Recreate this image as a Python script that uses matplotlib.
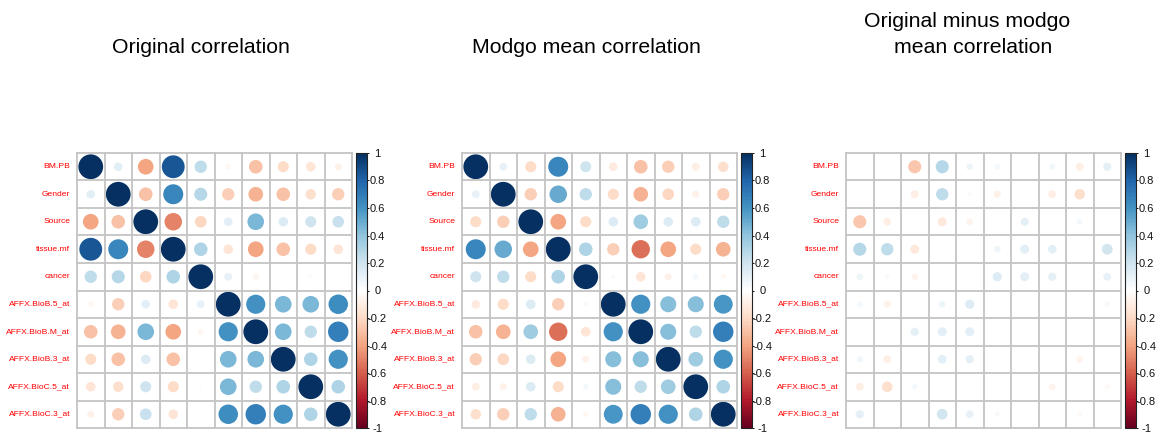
import numpy as np
import matplotlib
matplotlib.use("Agg")
import matplotlib.pyplot as plt
from matplotlib.colors import LinearSegmentedColormap, Normalize
from matplotlib.patches import Circle
from matplotlib.transforms import Bbox, TransformedBbox
import matplotlib.colorbar as mcolorbar

plt.rcParams['font.family'] = ['Liberation Sans', 'DejaVu Sans']

variables = ["BM.PB", "Gender", "Source", "tissue.mf", "cancer",
             "AFFX.BioB.5_at", "AFFX.BioB.M_at", "AFFX.BioB.3_at",
             "AFFX.BioC.5_at", "AFFX.BioC.3_at"]

titles = ["Original correlation", "Modgo mean correlation",
          "Original minus modgo\nmean correlation"]

original_corr = [
    [1.00, 0.12, -0.40, 0.85, 0.25, -0.05, -0.30, -0.20, -0.15, -0.08],
    [0.12, 1.00, -0.30, 0.65, 0.28, -0.25, -0.35, -0.30, -0.18, -0.25],
    [-0.40, -0.30, 1.00, -0.50, -0.22, 0.12, 0.45, 0.15, 0.20, 0.22],
    [0.85, 0.65, -0.50, 1.00, 0.30, -0.15, -0.40, -0.30, -0.20, -0.15],
    [0.25, 0.28, -0.22, 0.30, 1.00, 0.10, -0.06, -0.01, 0.02, 0.01],
    [-0.05, -0.25, 0.12, -0.15, 0.10, 1.00, 0.60, 0.45, 0.45, 0.62],
    [-0.30, -0.35, 0.45, -0.40, -0.06, 0.60, 1.00, 0.45, 0.25, 0.68],
    [-0.20, -0.30, 0.15, -0.30, -0.01, 0.45, 0.45, 1.00, 0.30, 0.60],
    [-0.15, -0.18, 0.20, -0.20, 0.02, 0.45, 0.25, 0.30, 1.00, 0.30],
    [-0.08, -0.25, 0.22, -0.15, 0.01, 0.62, 0.68, 0.60, 0.30, 1.00],
]

modgo_corr = [
    [1.00, 0.10, -0.20, 0.65, 0.20, -0.12, -0.30, -0.25, -0.10, -0.18],
    [0.10, 1.00, -0.25, 0.50, 0.25, -0.20, -0.35, -0.22, -0.08, -0.25],
    [-0.20, -0.25, 1.00, -0.40, -0.20, 0.15, 0.35, 0.15, 0.15, 0.25],
    [0.65, 0.50, -0.40, 1.00, 0.30, -0.25, -0.55, -0.40, -0.20, -0.35],
    [0.20, 0.25, -0.20, 0.30, 1.00, 0.03, -0.15, -0.08, 0.05, -0.05],
    [-0.12, -0.20, 0.15, -0.25, 0.03, 1.00, 0.60, 0.42, 0.42, 0.58],
    [-0.30, -0.35, 0.35, -0.55, -0.15, 0.60, 1.00, 0.42, 0.25, 0.68],
    [-0.25, -0.22, 0.15, -0.40, -0.08, 0.42, 0.42, 1.00, 0.35, 0.60],
    [-0.10, -0.08, 0.15, -0.20, 0.05, 0.42, 0.25, 0.35, 1.00, 0.30],
    [-0.18, -0.25, 0.25, -0.35, -0.05, 0.58, 0.68, 0.60, 0.30, 1.00],
]

diff_corr = [
    [0.00, 0.01, -0.28, 0.28, 0.07, 0.05, 0.01, 0.06, -0.10, 0.11],
    [0.01, 0.00, -0.10, 0.25, 0.03, -0.08, 0.01, -0.10, -0.18, 0.005],
    [-0.28, -0.10, 0.00, -0.13, -0.07, 0.01, 0.11, 0.01, 0.05, -0.02],
    [0.28, 0.25, -0.13, 0.00, 0.01, 0.07, 0.13, 0.12, 0.01, 0.19],
    [0.07, 0.03, -0.07, 0.01, 0.00, 0.14, 0.13, 0.11, -0.02, 0.10],
    [0.05, -0.08, 0.01, 0.07, 0.14, 0.00, 0.005, 0.005, 0.01, 0.04],
    [0.01, 0.01, 0.11, 0.13, 0.13, 0.005, 0.00, 0.005, 0.005, 0.005],
    [0.06, -0.10, 0.01, 0.12, 0.11, 0.005, 0.005, 0.00, -0.07, 0.005],
    [-0.10, -0.18, 0.05, 0.01, -0.02, 0.01, 0.005, -0.07, 0.00, -0.04],
    [0.11, 0.005, -0.02, 0.19, 0.10, 0.04, 0.005, 0.005, -0.04, 0.00],
]

colorbar_ticks = [-1, -0.8, -0.6, -0.4, -0.2, 0, 0.2, 0.4, 0.6, 0.8, 1]
colorbar_labels = ["-1", "-0.8", "-0.6", "-0.4", "-0.2", "0",
                   "0.2", "0.4", "0.6", "0.8", "1"]

rdbu = ["#67001F", "#B2182B", "#D6604D", "#F4A582", "#FDDBC7", "#FFFFFF",
        "#D1E5F0", "#92C5DE", "#4393C3", "#2166AC", "#053061"]
cmap = LinearSegmentedColormap.from_list("corrRdBu", rdbu, N=200)
norm = Normalize(-1, 1)

W, H = 1161, 436
fig = plt.figure(figsize=(W / 100, H / 100), dpi=100)

grid_left = [77, 462, 846]
cbar_left = [356, 741, 1125]
title_x = [[201], [586], [967, 973]]
title_base = [[53.3], [53.3], [26.7, 52.7]]
grid_top, grid_bottom = 153, 428
size = grid_bottom - grid_top
panel_w = W / 3
n = len(variables)

for p, mat in enumerate([original_corr, modgo_corr, diff_corr]):
    mat = np.asarray(mat)
    clip = TransformedBbox(Bbox.from_extents(p * panel_w / W, 0,
                                             (p + 1) * panel_w / W, 1),
                           fig.transFigure)
    ax = fig.add_axes([grid_left[p] / W, 1 - grid_bottom / H,
                       size / W, size / H])
    ax.set_xlim(0, n)
    ax.set_ylim(n, 0)
    ax.axis("off")
    for i in range(n):
        for j in range(n):
            v = mat[i, j]
            r = 0.9 * np.sqrt(abs(v)) / 2
            ax.add_patch(Circle((j + 0.5, i + 0.5), r,
                                facecolor=cmap(norm(v)), edgecolor="none"))
    for k in range(n + 1):
        ax.plot([0, n], [k, k], color="#C4C4C4", lw=1.3, clip_on=False,
                solid_capstyle="projecting")
        ax.plot([k, k], [0, n], color="#C4C4C4", lw=1.3, clip_on=False,
                solid_capstyle="projecting")
    for i, lab in enumerate(variables):
        t = ax.text(-0.25, i + 0.5, lab, ha="right", va="center",
                    color="#FF0000", fontsize=6.1)
        t.set_clip_on(True)
        t.set_clip_box(clip)

    cax = fig.add_axes([cbar_left[p] / W, 1 - grid_bottom / H,
                        11 / W, size / H])
    cb = mcolorbar.ColorbarBase(cax, cmap=cmap, norm=norm,
                                ticks=colorbar_ticks)
    cb.set_ticklabels(colorbar_labels)
    cb.outline.set_linewidth(0.8)
    cb.outline.set_edgecolor("#222222")
    cax.tick_params(axis="y", length=1.6, width=0.7, pad=6.0,
                    labelsize=8, colors="#111111")
    for lbl in cax.get_yticklabels():
        lbl.set_ha("center")
        lbl.set_clip_on(True)
        lbl.set_clip_box(clip)

    for line, tx, ty in zip(titles[p].split("\n"), title_x[p], title_base[p]):
        fig.text(tx / W, 1 - ty / H, line, ha="center", va="baseline",
                 fontsize=15.3)

fig.savefig("out.png", dpi=100, facecolor="white")
